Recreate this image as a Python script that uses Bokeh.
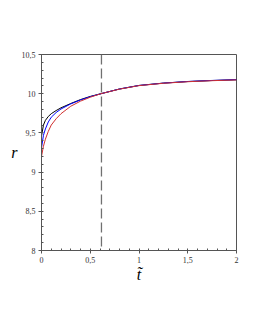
from bokeh.plotting import figure
from bokeh.models import FixedTicker, Span
from bokeh.embed import file_html
from bokeh.resources import INLINE

# data
t = [0.0, 0.02, 0.04, 0.07, 0.1, 0.15, 0.2, 0.3, 0.4, 0.5, 0.61, 0.8, 1.0, 1.25, 1.5, 1.75, 2.0]
r_black = [9.46, 9.60, 9.66, 9.71, 9.745, 9.785, 9.82, 9.875, 9.925, 9.965, 10.0, 10.06, 10.105, 10.135, 10.155, 10.168, 10.178]
r_blue = [9.31, 9.47, 9.55, 9.64, 9.70, 9.76, 9.805, 9.87, 9.92, 9.962, 10.0, 10.06, 10.105, 10.135, 10.156, 10.169, 10.179]
r_red = [9.20, 9.33, 9.42, 9.52, 9.60, 9.68, 9.745, 9.84, 9.905, 9.955, 10.0, 10.058, 10.103, 10.133, 10.153, 10.166, 10.176]
t_dash = 0.615

x_ticks = [0, 0.5, 1, 1.5, 2]
x_labels = ["0", "0,5", "1", "1,5", "2"]
y_ticks = [8, 8.5, 9, 9.5, 10, 10.5]
y_labels = ["8", "8,5", "9", "9,5", "10", "10,5"]

p = figure(width=247, height=322, output_backend="svg", toolbar_location=None,
           x_range=(0, 2), y_range=(8, 10.5),
           min_border_left=41, min_border_right=11, min_border_top=54, min_border_bottom=72)
p.grid.visible = False
p.outline_line_color = "#555555"
p.outline_line_width = 1
p.background_fill_color = "white"
p.border_fill_color = "white"

p.line(t, r_black, line_color="black", line_width=1.0)
p.line(t, r_blue, line_color="blue", line_width=1.0)
p.line(t, r_red, line_color="#d03030", line_width=1.0)

p.add_layout(Span(location=t_dash, dimension="height", line_color="#707070",
                  line_width=1.3, line_dash="10 4"))

minor_x = [i / 10 for i in range(0, 21)]
minor_y = [8 + i / 10 for i in range(0, 26)]
p.xaxis.ticker = FixedTicker(ticks=x_ticks, minor_ticks=minor_x)
p.yaxis.ticker = FixedTicker(ticks=y_ticks, minor_ticks=minor_y)
p.xaxis.major_label_overrides = dict(zip(x_ticks, x_labels))
p.yaxis.major_label_overrides = dict(zip(y_ticks, y_labels))

for ax in (p.xaxis[0], p.yaxis[0]):
    ax.axis_line_color = "#555555"
    ax.major_tick_line_color = "#555555"
    ax.minor_tick_line_color = "#555555"
    ax.major_tick_out = 3
    ax.major_tick_in = 0
    ax.minor_tick_in = 2
    ax.minor_tick_out = 0
    ax.major_label_text_font = "Liberation Serif"
    ax.major_label_text_font_size = "8px"
    ax.major_label_text_color = "#333333"
    ax.major_label_standoff = 3
    ax.axis_label_text_font = "Liberation Serif"
    ax.axis_label_text_font_style = "italic"
    ax.axis_label_text_font_size = "16px"
    ax.axis_label_text_color = "black"

p.yaxis.axis_label = "r"
p.yaxis.axis_label_standoff = 1
p.yaxis.axis_label_orientation = "horizontal"
p.yaxis.major_label_orientation = "horizontal"
p.xaxis.axis_label = "t\u0303"
p.xaxis.axis_label_standoff = 0

open("out.html", "w").write(file_html(p, INLINE))
